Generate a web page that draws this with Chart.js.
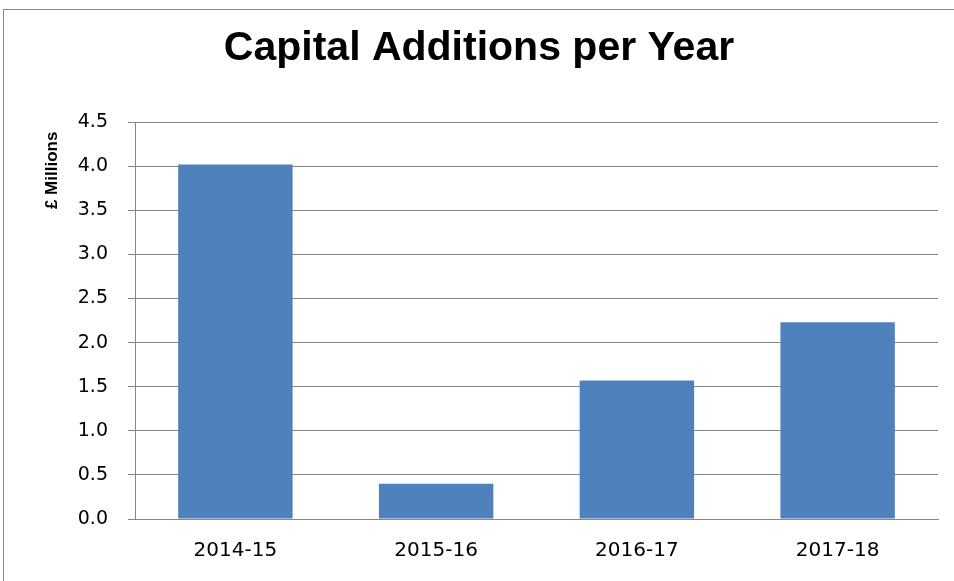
<!DOCTYPE html>
<html>
<head>
<meta charset="utf-8">
<script src="https://cdn.jsdelivr.net/npm/chart.js@4"></script>
<style>
    html, body { margin: 0; padding: 0; background: #fff; overflow: hidden; }
    #frame {
        position: absolute; left: 3px; top: 9px;
        width: 980px; height: 600px;
        border: 1px solid #888;
    }
    #wrap { position: absolute; left: 0; top: 0; width: 954px; height: 581px; }
</style>
</head>
<body>
<div id="frame"></div>
<div id="wrap"><canvas id="capChart"></canvas></div>
<script>
// chart data
const years = ["2014-15", "2015-16", "2016-17", "2017-18"];
const additions = [4.02, 0.40, 1.57, 2.23];
const yTicks = [0, 0.5, 1.0, 1.5, 2.0, 2.5, 3.0, 3.5, 4.0, 4.5];

const gridGray = "#868686";
const tickFont = "'DejaVu Sans', sans-serif";

new Chart(document.getElementById("capChart"), {
    type: "bar",
    data: {
        labels: years,
        datasets: [{
            label: "Capital Additions",
            data: additions,
            backgroundColor: "#4F81BD",
            borderWidth: 0,
            barPercentage: 0.57,
            categoryPercentage: 1.0
        }]
    },
    options: {
        responsive: true,
        maintainAspectRatio: false,
        animation: false,
        layout: { padding: { left: 20, right: 16, top: 0, bottom: 0 } },
        plugins: {
            legend: { display: false },
            tooltip: { enabled: false },
            title: {
                display: true,
                text: "Capital Additions per Year",
                color: "#000",
                font: { family: "'Liberation Sans', Arial, sans-serif", size: 41, weight: "bold", lineHeight: 1.2 },
                padding: { top: 24, bottom: 49 }
            }
        },
        scales: {
            x: {
                grid: { display: false },
                border: { display: true, color: gridGray, width: 1 },
                ticks: {
                    color: "#000",
                    font: { family: tickFont, size: 20 },
                    padding: 12
                },
                afterFit: s => { s.height = 62; }
            },
            y: {
                min: 0,
                max: 4.5,
                afterBuildTicks: s => { s.ticks = yTicks.map(v => ({ value: v })); },
                grid: { color: gridGray, lineWidth: 1, tickLength: 7, drawTicks: true },
                border: { display: true, color: gridGray, width: 1 },
                ticks: {
                    color: "#000",
                    font: { family: tickFont, size: 19 },
                    padding: 20,
                    callback: v => Number(v).toFixed(1)
                },
                title: {
                    display: true,
                    align: "end",
                    text: "£ Millions  ",
                    color: "#000",
                    font: { family: "'Liberation Sans', Arial, sans-serif", size: 17, weight: "bold", lineHeight: 1.2 },
                    padding: { top: 22, bottom: 0 }
                },
                afterFit: s => { s.width = 115; }
            }
        }
    }
});
</script>
</body>
</html>
